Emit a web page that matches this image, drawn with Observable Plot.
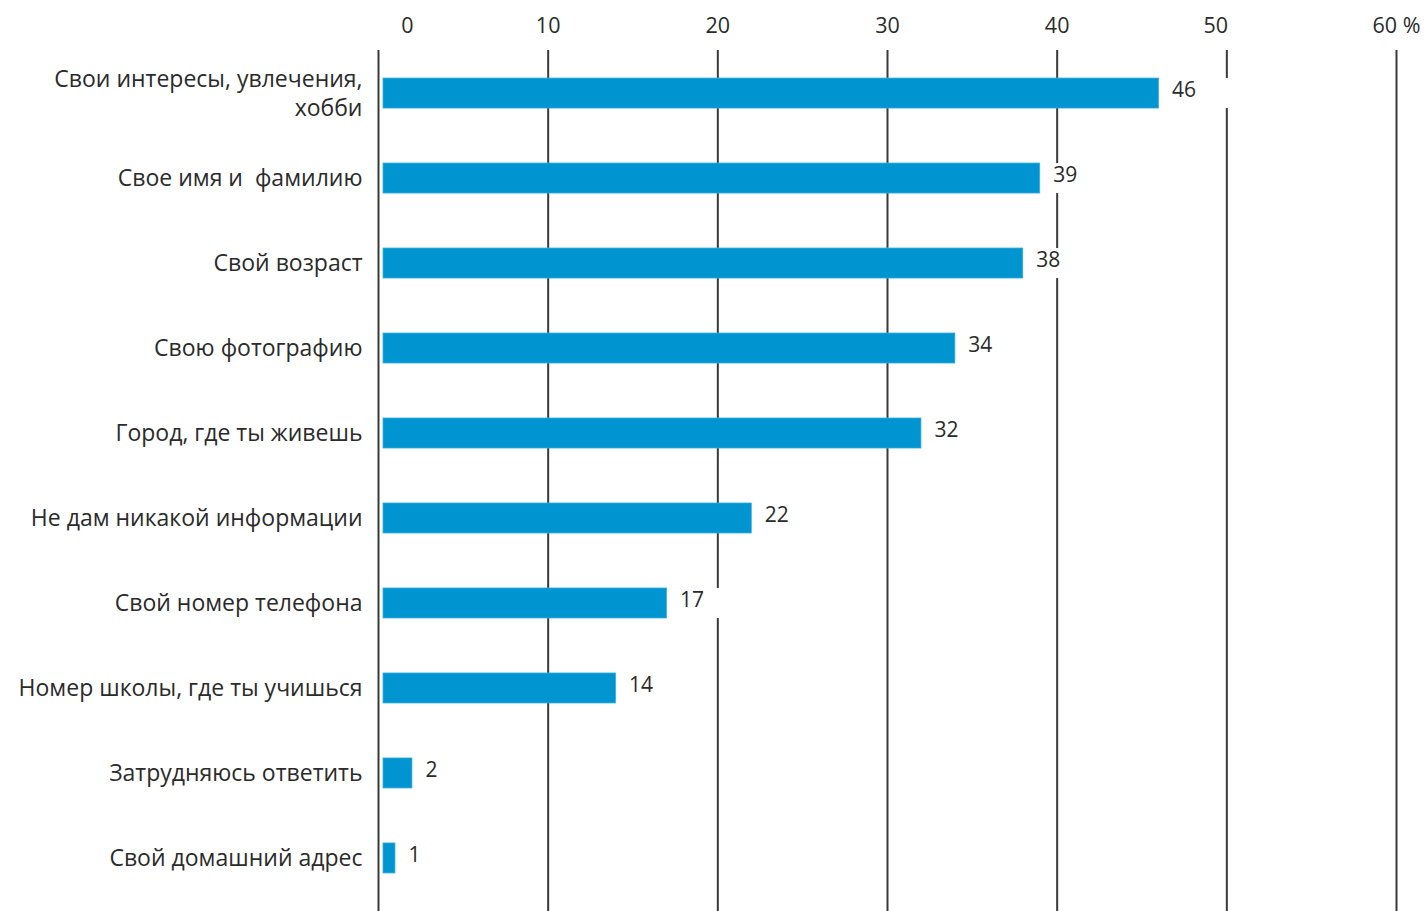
<!DOCTYPE html>
<html>
<head>
<meta charset="utf-8">
<script src="https://cdn.jsdelivr.net/npm/d3@7"></script>
<script src="https://cdn.jsdelivr.net/npm/@observablehq/plot@0.6"></script>
<style>
  html, body { margin: 0; padding: 0; background: #fff; }
</style>
</head>
<body>
<div id="chart"></div>
<script>
const categories = [
  "Свои интересы, увлечения,\nхобби",
  "Свое имя и  фамилию",
  "Свой возраст",
  "Свою фотографию",
  "Город, где ты живешь",
  "Не дам никакой информации",
  "Свой номер телефона",
  "Номер школы, где ты учишься",
  "Затрудняюсь ответить",
  "Свой домашний адрес"
];
const values = [46, 39, 38, 34, 32, 22, 17, 14, 2, 1];
const labels = ["46", "39", "38", "34", "32", "22", "17", "14", "2", "1"];
const ticks = [0, 10, 20, 30, 40, 50, 60];

const data = categories.map((c, i) => ({category: c, value: values[i], label: labels[i]}));

const textColor = "#2b2b2b";
const gridColor = "#3a3a3a";
const barColor = "#0094d0";

const chart = Plot.plot({
  width: 1426,
  height: 911,
  marginLeft: 378,
  marginRight: 30,
  marginTop: 50,
  marginBottom: 10,
  style: {fontFamily: "'Open Sans', sans-serif", fontSize: "20px", color: textColor, background: "#fff"},
  x: {domain: [0, 60], axis: null},
  y: {domain: categories, paddingInner: 0.647, paddingOuter: 0.33, round: false, axis: null},
  marks: [
    Plot.ruleX(ticks, {x: d => d, stroke: gridColor, strokeWidth: 2, insetBottom: -10}),
    Plot.barX(data, {y: "category", x1: "value", x2: "value", insetRight: -70, fill: "#fff"}),
    Plot.barX(data, {y: "category", x1: 0, x2: "value", insetLeft: 5, fill: barColor, stroke: "#35aee0", strokeWidth: 0.8}),
    Plot.text(data, {y: "category", x: "value", text: "label", textAnchor: "start", dx: 13, dy: -3, fill: textColor, fontSize: 21}),
    Plot.axisY({anchor: "left", tickSize: 0, tickPadding: 16, dy: -1.5, fontSize: 23, lineHeight: 1.26, fill: textColor, label: null}),
    Plot.axisX({anchor: "top", ticks: [10, 20, 30, 40], tickSize: 0, tickPadding: 18, fontSize: 21.5, fill: textColor, label: null}),
    Plot.axisX({anchor: "top", ticks: [60], tickFormat: d => d + " %", tickSize: 0, tickPadding: 18, fontSize: 21.5, fill: textColor, label: null}),
    Plot.axisX({anchor: "top", ticks: [0], tickSize: 0, tickPadding: 18, dx: 29, fontSize: 21.5, fill: textColor, label: null}),
    Plot.axisX({anchor: "top", ticks: [50], tickSize: 0, tickPadding: 18, dx: -11, fontSize: 21.5, fill: textColor, label: null})
  ]
});
document.getElementById("chart").appendChild(chart);
</script>
</body>
</html>
